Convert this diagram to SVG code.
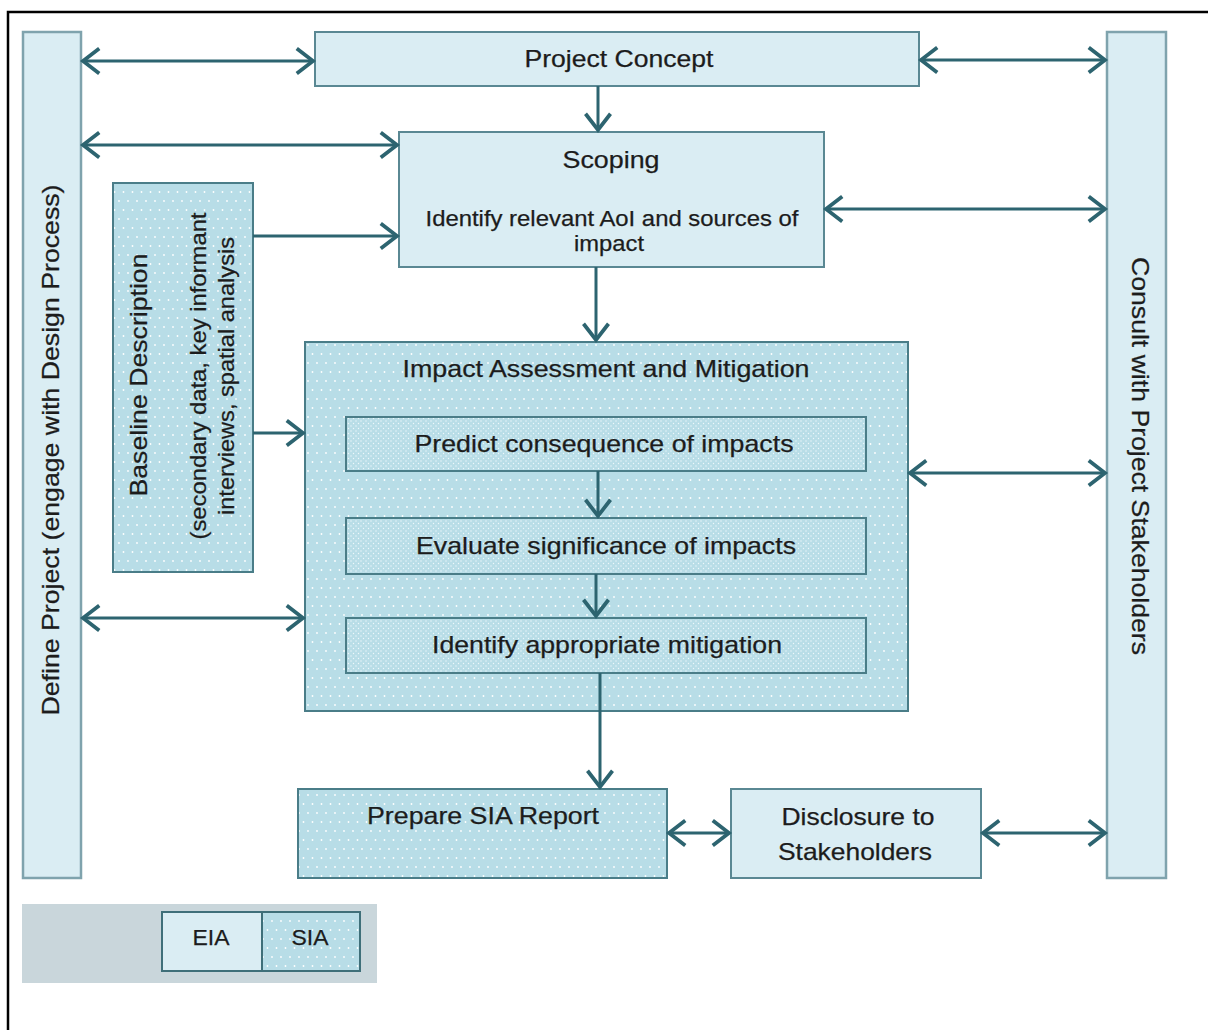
<svg xmlns="http://www.w3.org/2000/svg" width="1208" height="1030" viewBox="0 0 1208 1030">
<style>
text{font-family:"Liberation Sans",Arial,sans-serif;fill:#1c1c1c;font-size:24px;text-anchor:middle;stroke:#1c1c1c;stroke-width:0.25}
.s{font-size:22px}
.eia{fill:#daedf3;stroke:#5a8893;stroke-width:2}
.sia{fill:url(#dots);stroke:#4a7d88;stroke-width:2}
.sia2{fill:url(#dots2);stroke:#4a7d88;stroke-width:2}
.bar{fill:#daedf3;stroke:#7fa3ad;stroke-width:2.5}
.c{fill:none;stroke:#2d6470;stroke-width:3}
.one{marker-end:url(#ah)}
.two{marker-start:url(#ah);marker-end:url(#ah)}
</style>
<defs>
<pattern id="dots" width="9" height="18" patternUnits="userSpaceOnUse">
<rect width="9" height="18" fill="#b8dde7"/>
<circle cx="2" cy="3" r="0.9" fill="#fff"/>
<circle cx="6.5" cy="12" r="0.9" fill="#fff"/>
</pattern>
<pattern id="dots2" width="5" height="5" patternUnits="userSpaceOnUse">
<rect width="5" height="5" fill="#b8dde7"/>
<circle cx="1" cy="1" r="0.7" fill="#eef8fb"/>
<circle cx="3.5" cy="3.5" r="0.7" fill="#eef8fb"/>
</pattern>
<marker id="ah" markerUnits="userSpaceOnUse" markerWidth="30" markerHeight="30" viewBox="-16 -12 20 24" refX="0" refY="0" orient="auto-start-reverse">
<path d="M-13,-10 L0,0 L-13,10" fill="none" stroke="#2d6470" stroke-width="3"/>
</marker>
</defs>
<rect width="1208" height="1030" fill="#fff"/>
<path d="M8,1030 V12 H1208" fill="none" stroke="#000" stroke-width="2.5"/>

<g id="define-project">
<rect class="bar" x="23" y="32" width="58" height="846"/>
<text transform="translate(59,450) rotate(-90)" textLength="531" lengthAdjust="spacingAndGlyphs">Define Project (engage with Design Process)</text>
</g>
<g id="consult-stakeholders">
<rect class="bar" x="1107" y="32" width="59" height="846"/>
<text transform="translate(1132,456) rotate(90)" textLength="398" lengthAdjust="spacingAndGlyphs">Consult with Project Stakeholders</text>
</g>
<g id="project-concept">
<rect class="eia" x="315" y="32" width="604" height="54"/>
<text x="619" y="67" textLength="189" lengthAdjust="spacingAndGlyphs">Project Concept</text>
</g>
<g id="scoping">
<rect class="eia" x="399" y="132" width="425" height="135"/>
<text x="611" y="168" textLength="97" lengthAdjust="spacingAndGlyphs">Scoping</text>
<text class="s" x="612" y="226" textLength="373" lengthAdjust="spacingAndGlyphs">Identify relevant AoI and sources of</text>
<text class="s" x="609" y="251" textLength="70" lengthAdjust="spacingAndGlyphs">impact</text>
</g>
<g id="baseline">
<rect class="sia" x="113" y="183" width="140" height="389"/>
<text transform="translate(147,375) rotate(-90)" textLength="243" lengthAdjust="spacingAndGlyphs">Baseline Description</text>
<text class="s" transform="translate(206,376) rotate(-90)" textLength="327" lengthAdjust="spacingAndGlyphs">(secondary data, key informant</text>
<text class="s" transform="translate(234,376) rotate(-90)" textLength="278" lengthAdjust="spacingAndGlyphs">interviews, spatial analysis</text>
</g>
<g id="impact-assessment">
<rect class="sia" x="305" y="342" width="603" height="369"/>
<text x="606" y="377" textLength="407" lengthAdjust="spacingAndGlyphs">Impact Assessment and Mitigation</text>
</g>
<g id="predict">
<rect class="sia2" x="346" y="417" width="520" height="54"/>
<text x="604" y="452" textLength="379" lengthAdjust="spacingAndGlyphs">Predict consequence of impacts</text>
</g>
<g id="evaluate">
<rect class="sia2" x="346" y="518" width="520" height="56"/>
<text x="606" y="554" textLength="380" lengthAdjust="spacingAndGlyphs">Evaluate significance of impacts</text>
</g>
<g id="mitigation">
<rect class="sia2" x="346" y="618" width="520" height="55"/>
<text x="607" y="653" textLength="350" lengthAdjust="spacingAndGlyphs">Identify appropriate mitigation</text>
</g>
<g id="prepare-report">
<rect class="sia" x="298" y="789" width="369" height="89"/>
<text x="483" y="824" textLength="232" lengthAdjust="spacingAndGlyphs">Prepare SIA Report</text>
</g>
<g id="disclosure">
<rect class="eia" x="731" y="789" width="250" height="89"/>
<text x="858" y="825" textLength="153" lengthAdjust="spacingAndGlyphs">Disclosure to</text>
<text x="855" y="860" textLength="154" lengthAdjust="spacingAndGlyphs">Stakeholders</text>
</g>
<g id="legend">
<rect x="22" y="904" width="355" height="79" fill="#c9d6db"/>
<rect class="eia" x="162" y="912" width="100" height="59" style="stroke:#3f6f79"/>
<rect class="sia" x="262" y="912" width="98" height="59" style="stroke:#3f6f79"/>
<text class="s" x="211" y="945" textLength="37" lengthAdjust="spacingAndGlyphs">EIA</text>
<text class="s" x="310" y="945" textLength="37" lengthAdjust="spacingAndGlyphs">SIA</text>
</g>

<g id="connectors">
<path class="c two" d="M83,61 H313"/>
<path class="c two" d="M921,60 H1105"/>
<path class="c one" d="M598,86 V130"/>
<path class="c two" d="M83,145 H397"/>
<path class="c one" d="M253,236 H397"/>
<path class="c two" d="M826,209 H1105"/>
<path class="c one" d="M596,267 V340"/>
<path class="c one" d="M253,433 H303"/>
<path class="c two" d="M83,618 H303"/>
<path class="c two" d="M910,473 H1105"/>
<path class="c one" d="M598,471 V516"/>
<path class="c one" d="M596,574 V616"/>
<path class="c one" d="M600,673 V787"/>
<path class="c two" d="M669,833 H729"/>
<path class="c two" d="M983,833 H1105"/>
</g>
</svg>
